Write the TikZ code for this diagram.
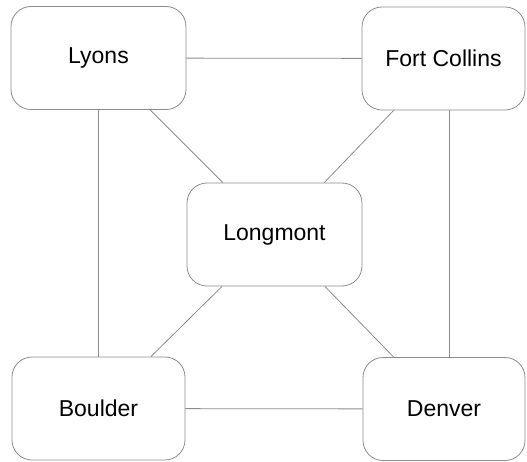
\documentclass[tikz,border=0pt]{standalone}
\usepackage{fontspec}
\setmainfont{Liberation Sans}
\usetikzlibrary{positioning}

\begin{document}
\begin{tikzpicture}[x=1pt, y=-1pt,
  city/.style={draw=black!45, rounded corners=20pt, fill=white,
    minimum width=#1, minimum height=103pt, align=center,
    font=\fontsize{23}{27}\selectfont, line width=0.8pt},
  city/.default=175pt,
  link/.style={draw=black!45, line width=0.8pt},
]
\useasboundingbox (0,0) rectangle (527,462);

\node[city] (lyons) at (98.5,58) {Lyons};
\node[city=163pt] (fort) at (443.5,58.5) {Fort Collins};
\node[city] (longmont) at (274.5,234.5) {Longmont};
\node[city=173pt] (boulder) at (98.5,408.5) {Boulder};
\node[city=162pt] (denver) at (444,409) {Denver};

\draw[link] (lyons) -- (fort);
\draw[link] (lyons) -- (boulder);
\draw[link] (boulder) -- (denver);
\draw[link] ([xshift=5.5pt]fort.south) -- ([xshift=5pt]denver.north);
\draw[link] (lyons) -- (longmont);
\draw[link] (fort) -- (longmont);
\draw[link] (longmont) -- (boulder);
\draw[link] (longmont) -- (denver);
\end{tikzpicture}
\end{document}
